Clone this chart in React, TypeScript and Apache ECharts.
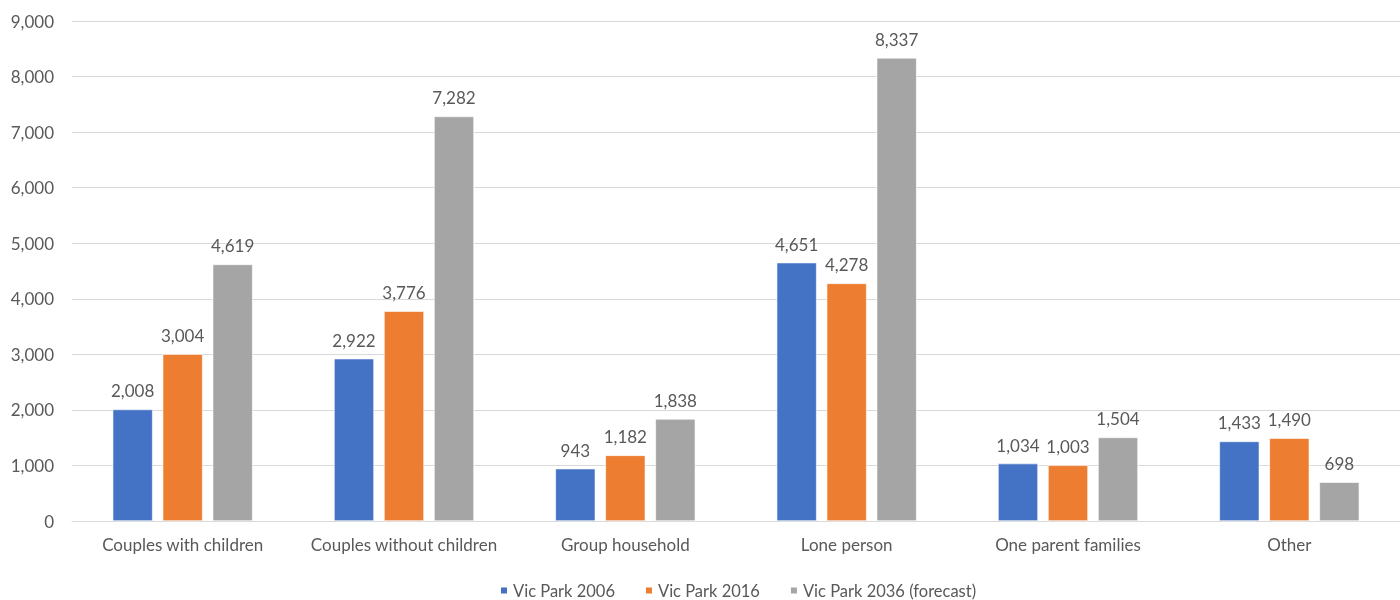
import React, { useEffect, useRef } from "react";
import * as echarts from "echarts";

const categories = [
  "Couples with children",
  "Couples without children",
  "Group household",
  "Lone person",
  "One parent families",
  "Other",
];
const vicPark2006 = [2008, 2922, 943, 4651, 1034, 1433];
const vicPark2016 = [3004, 3776, 1182, 4278, 1003, 1490];
const vicPark2036 = [4619, 7282, 1838, 8337, 1504, 698];

const seriesNames = ["Vic Park 2006", "Vic Park 2016", "Vic Park 2036 (forecast)"];
const colors = ["#4472C4", "#ED7D31", "#A5A5A5"];

const FONT = "Lato, 'Open Sans', sans-serif";
const TEXT = "#595959";
const FS = 17;

const fmt = (v: number) => v.toLocaleString("en-US");

export default function App() {
  const ref = useRef<HTMLDivElement>(null);

  useEffect(() => {
    if (!ref.current) return;
    document.body.style.margin = "0";
    const chart = echarts.init(ref.current, undefined, { renderer: "svg" });
    const data = [vicPark2006, vicPark2016, vicPark2036];
    chart.setOption({
      animation: false,
      textStyle: { fontFamily: FONT },
      color: colors,
      grid: { left: 72, right: -9, top: 21, bottom: 79, containLabel: false },
      legend: {
        bottom: -4,
        left: 494,
        itemWidth: 8,
        itemHeight: 8,
        itemGap: 29,
        icon: "rect",
        textStyle: { color: TEXT, fontSize: 16.5, fontFamily: FONT },
        data: seriesNames,
      },
      xAxis: {
        type: "category",
        data: categories,
        axisLine: { lineStyle: { color: "#D9D9D9", width: 1 } },
        axisTick: { show: false },
        axisLabel: { color: TEXT, fontSize: FS, margin: 15, fontFamily: FONT, interval: 0 },
      },
      yAxis: {
        type: "value",
        min: 0,
        max: 9000,
        interval: 1000,
        axisLine: { show: false },
        axisTick: { show: false },
        splitLine: { lineStyle: { color: "#D9D9D9", width: 1 } },
        axisLabel: {
          color: TEXT,
          fontSize: FS,
          margin: 18,
          fontFamily: FONT,
          formatter: (v: number) => fmt(v),
        },
      },
      series: data.map((d, i) => ({
        name: seriesNames[i],
        type: "bar",
        data: d,
        barWidth: 40,
        barGap: "25%",
        itemStyle: { color: colors[i], borderColor: "#ffffff", borderWidth: 0.6 },
        label: {
          show: true,
          position: "top",
          distance: 10,
          color: TEXT,
          fontSize: FS,
          fontFamily: FONT,
          formatter: (p: any) => fmt(p.value),
        },
      })),
    });
    return () => chart.dispose();
  }, []);

  return (
    <div
      ref={ref}
      style={{ position: "fixed", left: 0, top: 0, width: 1400, height: 600 }}
    />
  );
}
